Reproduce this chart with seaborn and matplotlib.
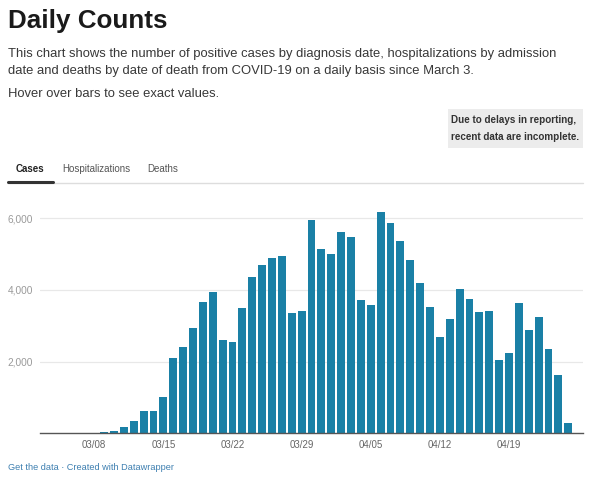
import matplotlib
matplotlib.use("Agg")
import matplotlib.pyplot as plt
from matplotlib.patches import Rectangle
from matplotlib.lines import Line2D
import seaborn as sns
import pandas as pd

# ---- data ----
dates = (["03/%02d" % d for d in range(3, 32)] +
         ["04/%02d" % d for d in range(1, 26)])
cases = [1, 3, 4, 5, 8, 20, 50, 75, 170, 345,
         620, 620, 1010, 2110, 2420, 2930, 3665, 3950, 2595, 2540,
         3490, 4370, 4700, 4885, 4960, 3350, 3415, 5950, 5135, 4995,
         5610, 5470, 3720, 3580, 6170, 5870, 5380, 4830, 4205, 3535,
         2700, 3200, 4030, 3740, 3385, 3415, 2045, 2240, 3630, 2885,
         3240, 2355, 1630, 300]
x_tick_labels = ["03/08", "03/15", "03/22", "03/29", "04/05", "04/12", "04/19"]
y_ticks = [2000, 4000, 6000]
tabs = ["Cases", "Hospitalizations", "Deaths"]

title = "Daily Counts"
subtitle_1 = ("This chart shows the number of positive cases by diagnosis date, "
              "hospitalizations by admission")
subtitle_2 = ("date and deaths by date of death from COVID-19 on a daily basis "
              "since March 3.")
subtitle_3 = "Hover over bars to see exact values."
note_1 = "Due to delays in reporting,"
note_2 = "recent data are incomplete."
footer = "Get the data \u00b7 Created with Datawrapper"

# ---- style ----
sns.set_theme(style="white")
plt.rcParams['font.family'] = ['Liberation Sans', 'DejaVu Sans']

W, H = 600, 479
fig = plt.figure(figsize=(6, 4.79), dpi=100)
fig.patch.set_facecolor("white")


def fx(px):
    return px / W


def fy(py):
    return 1 - py / H


base_px = 433.3
top_px = 204.0
ax = fig.add_axes([fx(40), fy(base_px), 543 / W, (base_px - top_px) / H])

df = pd.DataFrame({"date": dates, "cases": cases})
sns.barplot(data=df, x="date", y="cases", order=dates, color="#1a80a6",
            saturation=1, width=0.8, ax=ax, edgecolor="none")
ax.set_xlim(-0.49, 54.49)
ax.set_ylim(0, 6400)

ax.set_yticks(y_ticks)
ax.set_yticklabels([f"{v:,}" for v in y_ticks], fontsize=7.3, color="#9a9a9a")
ax.yaxis.grid(True, color="#e8e8e8", linewidth=0.9)
ax.set_axisbelow(True)
ax.tick_params(axis="y", length=0, pad=5)

ax.set_xticks([dates.index(t) for t in x_tick_labels])
ax.set_xticklabels(x_tick_labels, fontsize=7, color="#666666")
ax.tick_params(axis="x", length=0, pad=5)
ax.set_xlabel("")
ax.set_ylabel("")
for s in ["top", "right", "left"]:
    ax.spines[s].set_visible(False)
ax.spines["bottom"].set_color("#555555")
ax.spines["bottom"].set_linewidth(1.0)

# ---- header text ----
fig.text(fx(8), fy(28), title, fontsize=18.7, fontweight="bold",
         color="#1a1a1a", va="baseline", ha="left")
fig.text(fx(8), fy(57), subtitle_1, fontsize=9.4, color="#383838",
         va="baseline", ha="left")
fig.text(fx(8), fy(74), subtitle_2, fontsize=9.4, color="#383838",
         va="baseline", ha="left")
fig.text(fx(8), fy(97), subtitle_3, fontsize=9.4, color="#383838",
         va="baseline", ha="left")

# note box
fig.patches.append(Rectangle((fx(448), fy(148)), 135 / W, 39 / H,
                             transform=fig.transFigure, facecolor="#ececec",
                             edgecolor="none", zorder=0))
fig.text(fx(451), fy(120), note_1, fontsize=7.1, fontweight="bold",
         color="#333333", va="center", ha="left")
fig.text(fx(451), fy(137), note_2, fontsize=7.1, fontweight="bold",
         color="#333333", va="center", ha="left")

# tabs
tab_x = [16, 62, 147]
for i, (t, xp) in enumerate(zip(tabs, tab_x)):
    fig.text(fx(xp), fy(169), t, fontsize=7, color="#222222" if i == 0 else "#555555",
             fontweight="bold" if i == 0 else "normal", va="center", ha="left")
fig.add_artist(Line2D([fx(8), fx(583)], [fy(183), fy(183)],
                      transform=fig.transFigure, color="#dddddd", linewidth=1))
fig.add_artist(Line2D([fx(8), fx(53)], [fy(182), fy(182)],
                      transform=fig.transFigure, color="#333333", linewidth=2.2))

# footer
fig.text(fx(8), fy(468), footer, fontsize=6.6, color="#3d7fb0",
         va="center", ha="left")

fig.savefig("out.png", dpi=100, facecolor="white")
